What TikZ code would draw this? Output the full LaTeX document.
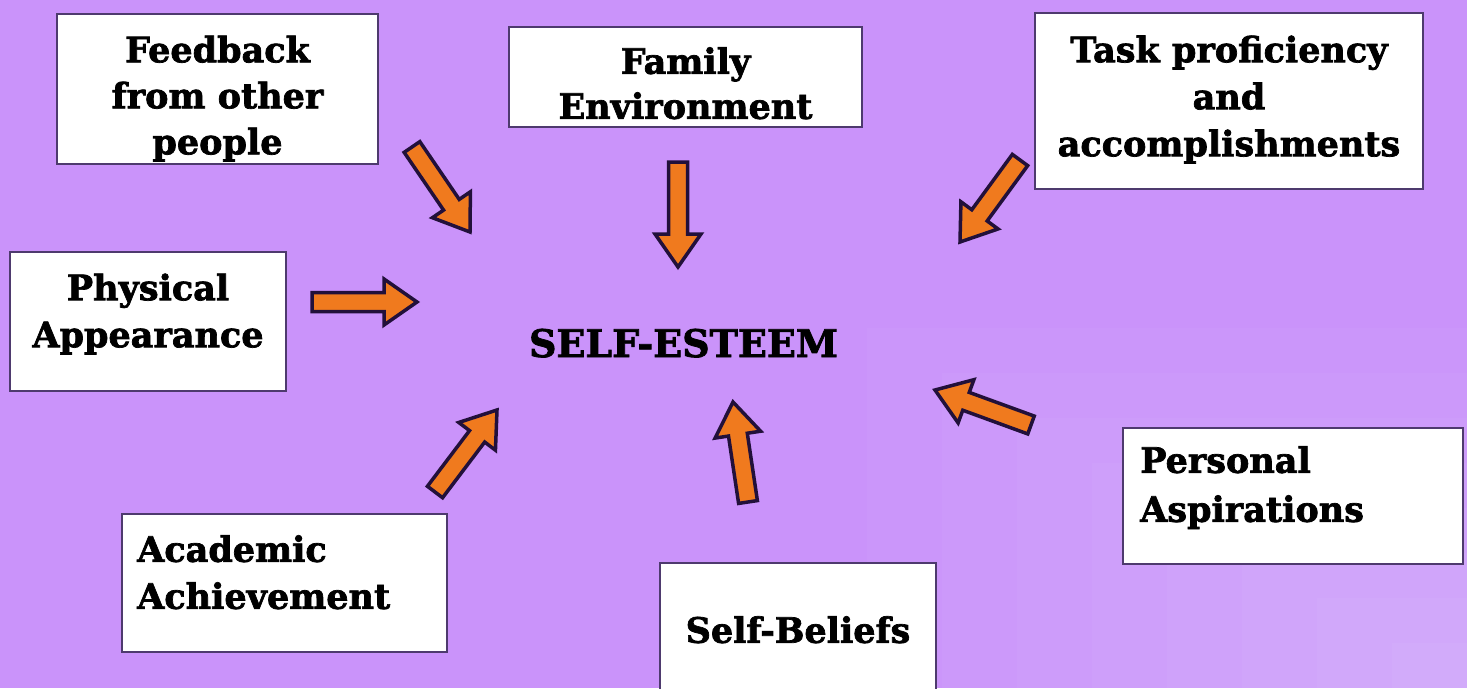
\documentclass[tikz,border=0pt]{standalone}
\usepackage{fontspec}
\setmainfont{DejaVu Serif}[BoldFeatures={FakeBold=2}]
\usetikzlibrary{calc}
\definecolor{bg}{HTML}{CA93FA}
\definecolor{arrfill}{HTML}{F07A1E}
\definecolor{arredge}{HTML}{22103A}
\definecolor{boxedge}{HTML}{4E3A6E}
\newcommand\blockarrow[2]{%
  \coordinate (hb) at ($(#2)!33pt!(#1)$);
  \draw[barrow] ($(#1)!9.5pt!90:(#2)$) -- ($(hb)!9.5pt!90:(#2)$) -- ($(hb)!23pt!90:(#2)$) -- (#2)
    -- ($(hb)!23pt!-90:(#2)$) -- ($(hb)!9.5pt!-90:(#2)$) -- ($(#1)!9.5pt!-90:(#2)$) -- cycle;}
\begin{document}
\begin{tikzpicture}[x=1pt,y=-1pt,
  box/.style={draw=boxedge, line width=2.2pt, fill=white, inner sep=0pt},
  txt/.style={font=\bfseries\fontsize{35}{47}\selectfont, inner sep=0pt},
  barrow/.style={draw=arredge, line width=3.5pt, fill=arrfill, line join=miter}]
\fill[bg] (0,0) rectangle (1467,688);
\useasboundingbox (0,0) rectangle (1467,688);
\clip (0,0) rectangle (1467,688);
\foreach \k in {1,...,8}{
  \fill[white, opacity=0.035] (1467,688) rectangle ({1467-\k*75},{688-\k*45});
}
% boxes
\node[box, minimum width=321pt, minimum height=150pt] (fb) at (217.5,89) {};
\node[box, minimum width=353pt, minimum height=100pt] (fam) at (685.5,77) {};
\node[box, minimum width=388pt, minimum height=176pt] (task) at (1229,101) {};
\node[box, minimum width=276pt, minimum height=139pt] (phys) at (148,321.5) {};
\node[box, minimum width=325pt, minimum height=138pt] (acad) at (284.5,583) {};
\node[box, minimum width=276pt, minimum height=142pt] (self) at (798,634) {};
\node[box, minimum width=340pt, minimum height=136pt] (pers) at (1293,496) {};
% texts
\node[txt, align=center, anchor=north] (fbt) at (217.5,35.5) {Feedback\\[-1pt]from other\\[-1pt]people};
\node[txt, align=center, anchor=north] (famt) at (685.5,47) {Family\\[-2pt]Environment};
\node[txt, align=center, anchor=north] (taskt) at (1229,35.4) {Task proficiency\\and\\accomplishments};
\node[txt, align=center, anchor=north] (physt) at (148,273.4) {Physical\\Appearance};
\node[txt, align=left, anchor=north west] (acadt) at (137,535) {Academic\\Achievement};
\node[txt, align=center, anchor=north] (selft) at (798,616) {Self-Beliefs};
\node[txt, align=left, anchor=north west] (perst) at (1140,446) {Personal\\[2pt]Aspirations};
\node[font=\bfseries\fontsize{38}{46}\selectfont, inner sep=0pt, anchor=base] (se) at (683.5,357) {SELF-ESTEEM};
% arrows
\coordinate (a1s) at (412,147); \coordinate (a1e) at (470,232);
\coordinate (a2s) at (678,162); \coordinate (a2e) at (678,267);
\coordinate (a3s) at (1020,160); \coordinate (a3e) at (960,242);
\coordinate (a4s) at (312,302); \coordinate (a4e) at (417,302);
\coordinate (a5s) at (435,492); \coordinate (a5e) at (497,410);
\coordinate (a6s) at (748,502); \coordinate (a6e) at (733,402);
\coordinate (a7s) at (1031,425); \coordinate (a7e) at (935,390);
\blockarrow{a1s}{a1e}
\blockarrow{a2s}{a2e}
\blockarrow{a3s}{a3e}
\blockarrow{a4s}{a4e}
\blockarrow{a5s}{a5e}
\blockarrow{a6s}{a6e}
\blockarrow{a7s}{a7e}
\end{tikzpicture}
\end{document}
